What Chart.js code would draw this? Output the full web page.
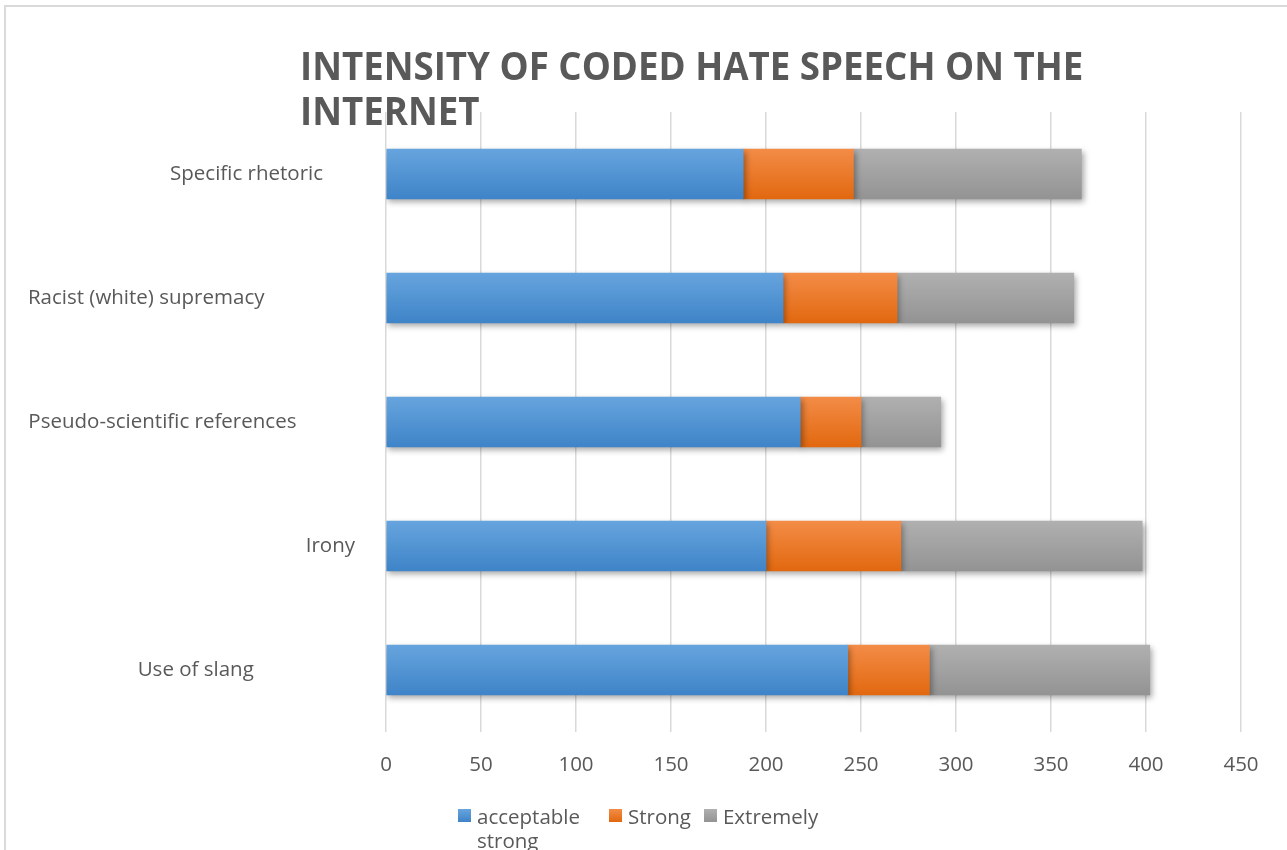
<!DOCTYPE html>
<html lang="en">
<head>
<meta charset="utf-8">
<title>Intensity of coded hate speech on the internet</title>
<script src="https://cdn.jsdelivr.net/npm/chart.js@4.4.1/dist/chart.umd.min.js"></script>
<style>
  html, body { margin: 0; padding: 0; background: #fff; overflow: hidden; }
  #wrap { position: relative; width: 1287px; height: 850px; }
  #frame { position: absolute; left: 4px; top: 5px; width: 1400px; height: 1000px; border: 2px solid #dadada; box-sizing: border-box; }
  #chart { position: absolute; left: 0; top: 0; }
  #title {
    position: absolute; left: 300px; top: 42px; margin: 0;
    font: bold 39px "Open Sans", sans-serif; line-height: 45px; color: #595959;
    white-space: nowrap; transform: scaleX(0.94); transform-origin: left top;
  }
  #legend {
    position: absolute; left: 458px; top: 804px; display: flex; gap: 13px;
    font: 20.5px "Open Sans", sans-serif; line-height: 24px; color: #595959;
  }
  #legend .item { display: flex; align-items: flex-start; }
  #legend .box { width: 13px; height: 13px; margin: 5px 6px 0 0; flex: none; }
  #legend .item:first-child span { width: 119px; }
</style>
</head>
<body>
<div id="wrap">
  <div id="frame"></div>
  <canvas id="chart" width="1287" height="850" style="width:1287px;height:850px"></canvas>
  <h1 id="title">INTENSITY OF CODED HATE SPEECH ON THE<br>INTERNET</h1>
  <div id="legend"></div>
</div>
<script>
const categories = ["Specific rhetoric", "Racist (white) supremacy", "Pseudo-scientific references", "Irony", "Use of slang"];
const acceptableStrong = [188, 209, 218, 200, 243];
const strong = [58, 60, 32, 71, 43];
const extremely = [120, 93, 42, 127, 116];
const xTicks = [0, 50, 100, 150, 200, 250, 300, 350, 400, 450];

// trailing spaces nudge each category label left of the shared right edge
const labelIndent = [6, 17, 11, 0, 19];

const FONT = "'Open Sans', sans-serif";
const TEXT = "#595959";
const BAR = 50;

const series = [
  { label: "acceptable strong", data: acceptableStrong, top: "#66a4de", bottom: "#3f84c8" },
  { label: "Strong", data: strong, top: "#f38c47", bottom: "#e2680f" },
  { label: "Extremely", data: extremely, top: "#b0b0b0", bottom: "#939393" }
];

function barFill(top, bottom) {
  return (ctx) => {
    const yScale = ctx.chart.scales.y;
    if (!yScale || ctx.type !== "data") return bottom;
    const mid = yScale.getPixelForValue(ctx.dataIndex);
    if (!Number.isFinite(mid)) return bottom;
    const g = ctx.chart.ctx.createLinearGradient(0, mid - BAR / 2, 0, mid + BAR / 2);
    g.addColorStop(0, top);
    g.addColorStop(1, bottom);
    return g;
  };
}

const barShadow = {
  id: "barShadow",
  beforeDatasetsDraw(chart) {
    const c = chart.ctx;
    c.save();
    c.shadowColor = "rgba(0, 0, 0, 0.35)";
    c.shadowBlur = 6;
    c.shadowOffsetX = 2;
    c.shadowOffsetY = 3;
  },
  afterDatasetsDraw(chart) {
    chart.ctx.restore();
  }
};

const chart = new Chart(document.getElementById("chart"), {
  type: "bar",
  data: {
    labels: categories,
    datasets: series.map((s) => ({
      label: s.label,
      data: s.data,
      backgroundColor: barFill(s.top, s.bottom),
      borderWidth: 0,
      barThickness: BAR
    }))
  },
  options: {
    indexAxis: "y",
    responsive: false,
    animation: false,
    layout: { padding: { top: 112, right: 46, bottom: 0, left: 0 } },
    plugins: { legend: { display: false }, title: { display: false }, tooltip: { enabled: false } },
    scales: {
      x: {
        stacked: true,
        min: 0,
        max: 450,
        afterBuildTicks: (scale) => { scale.ticks = xTicks.map((value) => ({ value })); },
        afterFit: (scale) => { scale.height = 118; },
        border: { display: false },
        grid: { color: "#d9d9d9", lineWidth: 1.5, drawTicks: false },
        ticks: { color: TEXT, font: { family: FONT, size: 20.5 }, padding: 21 }
      },
      y: {
        stacked: true,
        afterFit: (scale) => { scale.width = 386; },
        border: { display: false },
        grid: { display: false, drawTicks: false },
        ticks: {
          color: TEXT,
          font: { family: FONT, size: 20.5 },
          padding: 31,
          callback: (value, index) => categories[index] + " ".repeat(labelIndent[index])
        }
      }
    }
  },
  plugins: [barShadow]
});

// legend built from the same series
document.getElementById("legend").innerHTML = series
  .map((s) => `
    <div class="item">
      <div class="box" style="background: linear-gradient(${s.top}, ${s.bottom})"></div>
      <span>${s.label}</span>
    </div>`)
  .join("");
</script>
</body>
</html>
